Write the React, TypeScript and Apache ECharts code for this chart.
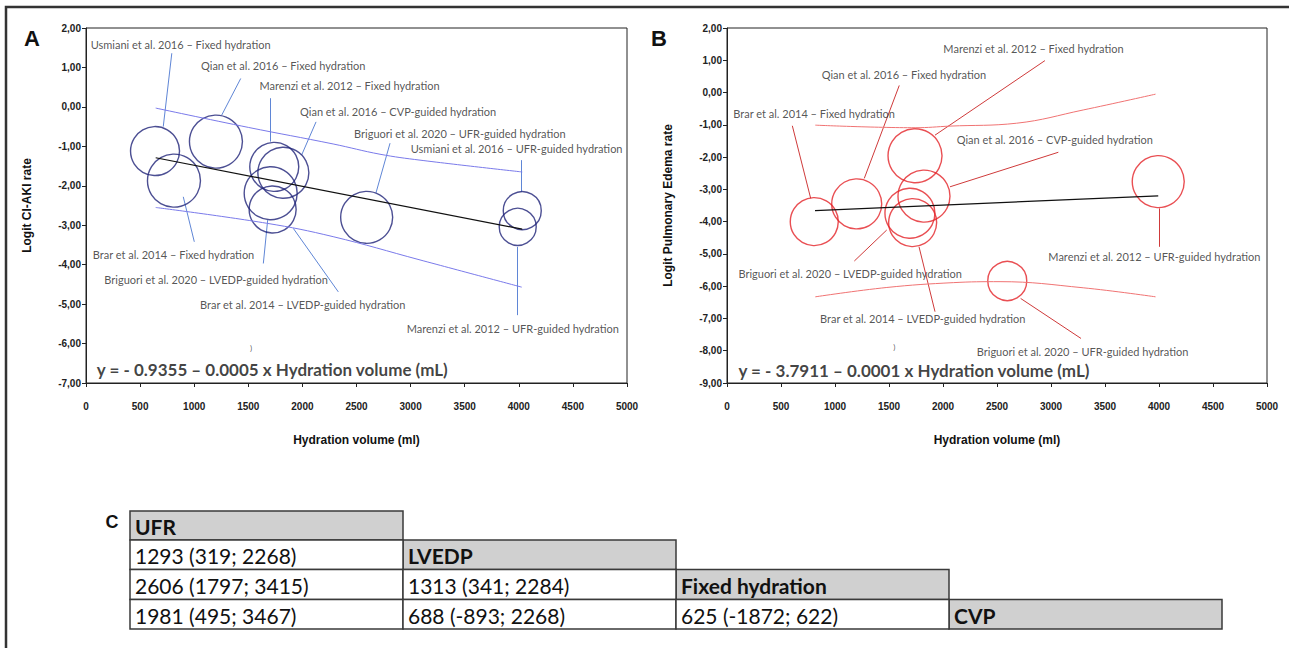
import React, { useEffect, useRef } from "react";
import * as echarts from "echarts";

// ---------- Panel A: Logit CI-AKI rate ----------
const aNames = [
  "Usmiani et al. 2016 – Fixed hydration",
  "Qian et al. 2016 – Fixed hydration",
  "Marenzi et al. 2012 – Fixed hydration",
  "Qian et al. 2016 – CVP-guided hydration",
  "Briguori et al. 2020 – UFR-guided hydration",
  "Usmiani et al. 2016 – UFR-guided hydration",
  "Brar et al. 2014 – Fixed hydration",
  "Briguori et al. 2020 – LVEDP-guided hydration",
  "Brar et al. 2014 – LVEDP-guided hydration",
  "Marenzi et al. 2012 – UFR-guided hydration",
];
const aCircleX = [638, 1201, 1740, 1824, 2594, 4032, 813, 1707, 1725, 3990];
const aCircleY = [-1.12, -0.88, -1.52, -1.67, -2.8, -2.63, -1.87, -2.19, -2.6, -3.04];
const aCircleSize = [49, 53, 49, 51, 52, 38, 53, 53, 47, 37];
const aLabelX = [43, 1063, 1602, 1978, 2477, 3001, 62, 169, 1054, 2964];
const aLabelY = [1.57, 1.04, 0.55, -0.12, -0.67, -1.05, -3.73, -4.37, -5.02, -5.63];
const aLeaderFrom = [[793, 1.36], [1430, 0.72], [1701, 0.22], [2126, -0.38], [2810, -0.92], [4027, -1.35], [1001, -3.42], [1639, -3.97], [2332, -4.69], [3990, -5.28]];
const aLeaderTo = [[714, -0.5], [1254, -0.21], [1701, -0.88], [1993, -1.22], [2680, -2.18], [4027, -2.15], [899, -2.28], [1679, -2.87], [1916, -3.08], [3990, -3.55]];
const aFitX = [644, 4032];
const aFitY = [-1.29, -3.1];
const aUpperX = [644, 1500, 2284, 2717, 3087, 4032];
const aUpperY = [-0.03, -0.52, -0.94, -1.2, -1.35, -1.65];
const aLowerX = [644, 1670, 2284, 3087, 4027];
const aLowerY = [-2.55, -2.95, -3.29, -3.88, -4.57];
const aEquation = "y = - 0.9355 – 0.0005 x Hydration volume (mL)";
const aEquationPos = [99, -6.67];
const aStrayPos = [1516, -6.12];

// ---------- Panel B: Logit Pulmonary Edema rate ----------
const bNames = [
  "Brar et al. 2014 – Fixed hydration",
  "Qian et al. 2016 – Fixed hydration",
  "Marenzi et al. 2012 – Fixed hydration",
  "Qian et al. 2016 – CVP-guided hydration",
  "Briguori et al. 2020 – LVEDP-guided hydration",
  "Brar et al. 2014 – LVEDP-guided hydration",
  "Marenzi et al. 2012 – UFR-guided hydration",
  "Briguori et al. 2020 – UFR-guided hydration",
];
const bCircleX = [808, 1201, 1741, 1824, 1694, 1719, 3993, 2595];
const bCircleY = [-4.0, -3.45, -1.96, -3.21, -3.74, -4.03, -2.76, -5.84];
const bCircleSize = [48, 50, 54, 52, 50, 48, 52, 39];
const bLabelX = [58, 877, 2003, 2127, 105, 861, 2975, 2312];
const bLabelY = [-0.64, 0.55, 1.37, -1.47, -5.6, -7.0, -5.09, -8.01];
const bLeaderFrom = [[605, -1.03], [1595, 0.22], [2944, 0.99], [3068, -1.85], [1179, -5.22], [1926, -6.79], [4006, -4.78], [3278, -7.62]];
const bLeaderTo = [[775, -3.28], [1271, -2.66], [1926, -1.32], [2065, -2.92], [1479, -4.26], [1778, -4.78], [4006, -3.59], [2719, -6.38]];
const bFitX = [815, 3993];
const bFitY = [-3.66, -3.2];
const bUpperX = [817, 1742, 2065, 2682, 3298, 3968];
const bUpperY = [-1.01, -1.09, -1.04, -0.95, -0.54, -0.05];
const bLowerX = [817, 1480, 2096, 2528, 3298, 3968];
const bLowerY = [-6.33, -6.04, -5.89, -5.86, -6.05, -6.33];
const bEquation = "y = - 3.7911 – 0.0001 x Hydration volume (mL)";
const bEquationPos = [105, -8.62];
const bStrayPos = [1540, -7.89];

// ---------- Axes ----------
const xMin = 0, xMax = 5000, xStep = 500;
const aYMin = -7, aYMax = 2;
const bYMin = -9, bYMax = 2;
const xAxisName = "Hydration volume (ml)";
const aYName = "Logit CI-AKI rate";
const bYName = "Logit Pulmonary Edema rate";

// ---------- Table C ----------
const tableHeaders = ["UFR", "LVEDP", "Fixed hydration", "CVP"];
const tableRows = [
  ["1293 (319; 2268)"],
  ["2606 (1797; 3415)", "1313 (341; 2284)"],
  ["1981 (495; 3467)", "688 (-893; 2268)", "625 (-1872; 622)"],
];

const zip = (xs: number[], ys: number[]) => xs.map((x, i) => [x, ys[i]]);
const fmtY = (v: number) => v.toFixed(2).replace(".", ",");
const fmtX = (v: number) => String(v);
const annFont = "Lato, 'Open Sans', sans-serif";
const axisFont = "'Liberation Sans', Arial, sans-serif";

function panelSeries(idx: number, p: any) {
  const common = { xAxisIndex: idx, yAxisIndex: idx, silent: true };
  return [
    { ...common, type: "line", data: zip(p.upperX, p.upperY), smooth: 0.4, symbol: "none", lineStyle: { color: p.band, width: 1 } },
    { ...common, type: "line", data: zip(p.lowerX, p.lowerY), smooth: 0.4, symbol: "none", lineStyle: { color: p.band, width: 1 } },
    { ...common, type: "line", data: zip(p.fitX, p.fitY), symbol: "none", lineStyle: { color: "#111", width: 1.2 } },
    {
      ...common,
      type: "lines",
      coordinateSystem: "cartesian2d",
      data: p.from.map((f: number[], i: number) => ({ coords: [f, p.to[i]] })),
      lineStyle: { color: p.leader, width: 1, opacity: 1 },
    },
    {
      ...common,
      type: "scatter",
      data: p.cx.map((x: number, i: number) => ({ name: p.names[i], value: [x, p.cy[i], p.size[i]] })),
      symbol: "circle",
      symbolSize: (v: number[]) => v[2],
      itemStyle: { color: "rgba(0,0,0,0)", borderColor: p.circle, borderWidth: 1.4 },
    },
    {
      ...common,
      type: "scatter",
      symbolSize: 0.1,
      itemStyle: { color: "rgba(0,0,0,0)" },
      data: p.names.map((n: string, i: number) => ({ name: n, value: [p.lx[i], p.ly[i]] })),
      label: { show: true, position: "right", distance: 0, formatter: "{b}", color: "#2a2a2a", fontSize: 11, fontFamily: annFont },
    },
    {
      ...common,
      type: "scatter",
      symbolSize: 0.1,
      itemStyle: { color: "rgba(0,0,0,0)" },
      data: [{ name: p.eq, value: p.eqPos }],
      label: { show: true, position: "right", distance: 0, formatter: "{b}", color: "#111", fontSize: 17, fontWeight: "bold", fontFamily: annFont },
    },
    {
      ...common,
      type: "scatter",
      symbolSize: 0.1,
      itemStyle: { color: "rgba(0,0,0,0)" },
      data: [{ name: ")", value: p.stray }],
      label: { show: true, position: "right", distance: 0, formatter: "{b}", color: "#333", fontSize: 8, fontFamily: annFont },
    },
  ];
}

function makeX(idx: number) {
  return {
    type: "value",
    gridIndex: idx,
    min: xMin,
    max: xMax,
    interval: xStep,
    name: xAxisName,
    nameLocation: "middle",
    nameGap: 51,
    nameTextStyle: { fontSize: 12, fontWeight: "bold", color: "#111", fontFamily: axisFont },
    axisLine: { show: true, onZero: false, lineStyle: { color: "#222", width: 1 } },
    axisTick: { show: true, inside: false, length: 4, lineStyle: { color: "#222" } },
    axisLabel: { fontSize: 10, fontWeight: "bold", color: "#222", margin: 18, formatter: fmtX, fontFamily: axisFont },
    splitLine: { show: false },
  };
}
function makeY(idx: number, min: number, max: number, name: string) {
  return {
    type: "value",
    gridIndex: idx,
    min,
    max,
    interval: 1,
    name,
    nameLocation: "middle",
    nameGap: 53,
    nameTextStyle: { fontSize: 12, fontWeight: "bold", color: "#111", fontFamily: axisFont },
    axisLine: { show: true, onZero: false, lineStyle: { color: "#222", width: 1 } },
    axisTick: { show: true, inside: false, length: 4, lineStyle: { color: "#222" } },
    axisLabel: { fontSize: 10, fontWeight: "bold", color: "#222", margin: 5, formatter: fmtY, fontFamily: axisFont },
    splitLine: { show: false },
  };
}

function tableGraphics() {
  const colX = [130, 403, 676, 949, 1222];
  const rowY = [511, 540, 569.5, 599.5, 629];
  const els: any[] = [];
  const cell = (c: number, r: number, text: string, header: boolean) => {
    els.push({
      type: "rect",
      shape: { x: colX[c], y: rowY[r], width: colX[c + 1] - colX[c], height: rowY[r + 1] - rowY[r] },
      style: { fill: header ? "#d0d0d0" : "#ffffff", stroke: "#3a3a3a", lineWidth: 1.5 },
    });
    els.push({
      type: "text",
      x: colX[c] + 5,
      y: (rowY[r] + rowY[r + 1]) / 2 + 1,
      style: {
        text,
        fill: "#111",
        font: `${header ? "bold " : ""}21px Lato, 'Open Sans', sans-serif`,
        verticalAlign: "middle",
      },
    });
  };
  tableHeaders.forEach((h, i) => cell(i, i, h, true));
  tableRows.forEach((row, r) => row.forEach((v, c) => cell(c, r + 1, v, false)));
  return els;
}

export default function App() {
  const ref = useRef<HTMLDivElement>(null);
  useEffect(() => {
    if (!ref.current) return;
    const chart = echarts.init(ref.current, undefined, { renderer: "svg" });
    const pA = {
      names: aNames, cx: aCircleX, cy: aCircleY, size: aCircleSize, lx: aLabelX, ly: aLabelY,
      from: aLeaderFrom, to: aLeaderTo, fitX: aFitX, fitY: aFitY, upperX: aUpperX, upperY: aUpperY,
      lowerX: aLowerX, lowerY: aLowerY, eq: aEquation, eqPos: aEquationPos, stray: aStrayPos,
      circle: "#1f2378", band: "#7a7aea", leader: "#5f86d6",
    };
    const pB = {
      names: bNames, cx: bCircleX, cy: bCircleY, size: bCircleSize, lx: bLabelX, ly: bLabelY,
      from: bLeaderFrom, to: bLeaderTo, fitX: bFitX, fitY: bFitY, upperX: bUpperX, upperY: bUpperY,
      lowerX: bLowerX, lowerY: bLowerY, eq: bEquation, eqPos: bEquationPos, stray: bStrayPos,
      circle: "#e32328", band: "#f07373", leader: "#cf3a3a",
    };
    chart.setOption({
      animation: false,
      backgroundColor: "#ffffff",
      grid: [
        { left: 86, top: 28, width: 541, height: 355, show: true, borderColor: "#222", borderWidth: 1, backgroundColor: "transparent" },
        { left: 727, top: 28, width: 540, height: 355, show: true, borderColor: "#222", borderWidth: 1, backgroundColor: "transparent" },
      ],
      xAxis: [makeX(0), makeX(1)],
      yAxis: [makeY(0, aYMin, aYMax, aYName), makeY(1, bYMin, bYMax, bYName)],
      series: [...panelSeries(0, pA), ...panelSeries(1, pB)],
      graphic: [
        { type: "rect", shape: { x: 6, y: 7, width: 1400, height: 800 }, style: { fill: "none", stroke: "#333", lineWidth: 2.5 } },
        { type: "text", x: 32, y: 38, style: { text: "A", font: "bold 22px 'Liberation Sans', Arial, sans-serif", fill: "#111", align: "center", verticalAlign: "middle" } },
        { type: "text", x: 659, y: 38, style: { text: "B", font: "bold 22px 'Liberation Sans', Arial, sans-serif", fill: "#111", align: "center", verticalAlign: "middle" } },
        { type: "text", x: 112, y: 522, style: { text: "C", font: "bold 18px 'Liberation Sans', Arial, sans-serif", fill: "#111", align: "center", verticalAlign: "middle" } },
        ...tableGraphics(),
      ],
    });
    return () => chart.dispose();
  }, []);
  return <div ref={ref} style={{ position: "fixed", left: 0, top: 0, width: 1289, height: 648, background: "#fff" }} />;
}
